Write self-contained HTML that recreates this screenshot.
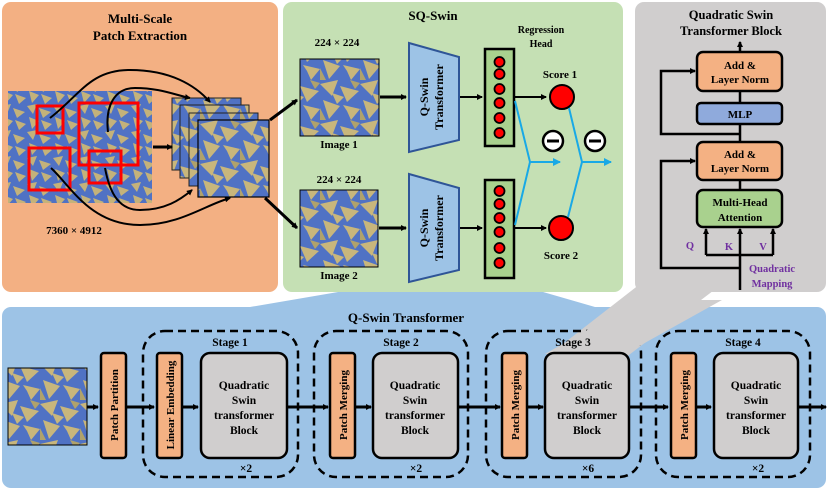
<!DOCTYPE html>
<html><head><meta charset="utf-8"><style>
html,body{margin:0;padding:0;background:#fff;}
svg{display:block;}
text{font-family:"Liberation Serif","Times New Roman",serif;font-weight:bold;}
</style></head><body>
<svg width="830" height="490" viewBox="0 0 830 490" xmlns="http://www.w3.org/2000/svg" font-family="Liberation Serif, serif" font-weight="bold">
<defs>
<pattern id="tex" width="40" height="40" patternUnits="userSpaceOnUse">
<rect width="40" height="40" fill="#5072c4"/>
<path d="M0 4 L18 0 L12 16 Z M20 6 L39 11 L27 22 Z M3 20 L20 26 L9 39 Z M23 25 L40 29 L31 40 L27 31Z M12 13 L24 17 L17 24Z" fill="#c8b67c"/>
<path d="M30 0 L40 3 L35 9Z M0 28 L6 40 L0 40Z" fill="#b0a26c"/>
</pattern>
<pattern id="tex2" width="26" height="26" patternUnits="userSpaceOnUse">
<rect width="26" height="26" fill="#5072c4"/>
<path d="M1 2 L11 0 L7 10 Z M13 4 L25 8 L17 14 Z M3 13 L13 17 L6 25 Z M15 16 L26 20 L19 26Z" fill="#c4b27a"/>
</pattern>
<marker id="ah" markerWidth="6" markerHeight="6" refX="5" refY="3" orient="auto" markerUnits="userSpaceOnUse"><path d="M0 0 L6 3 L0 6Z" fill="#000"/></marker>
<marker id="ahc" markerWidth="8" markerHeight="8" refX="7" refY="4" orient="auto" markerUnits="userSpaceOnUse"><path d="M0 0 L8 4 L0 8Z" fill="#19a9e6"/></marker>
</defs>

<polygon points="408,280 460,268 595,307 250,307" fill="#9dc3e6"/>
<rect x="2" y="2" width="276" height="290" rx="9" fill="#f3b083"/>
<rect x="283" y="2" width="340" height="290" rx="9" fill="#c5e0b4"/>
<rect x="2" y="307" width="824" height="181" rx="9" fill="#9dc3e6"/>
<rect x="635" y="2" width="191" height="290" rx="9" fill="#d0cece"/>
<polygon points="640,284 722,284 625,358 545,358" fill="#d0cece"/>

<text x="140" y="23" font-size="13" text-anchor="middle">Multi-Scale</text>
<text x="140" y="40" font-size="13" text-anchor="middle">Patch Extraction</text>
<rect x="8" y="91" width="144" height="112" fill="url(#tex2)"/>
<g fill="none" stroke="#f00" stroke-width="3">
<rect x="37" y="106" width="26" height="27"/>
<rect x="79" y="103" width="59" height="62"/>
<rect x="29" y="148" width="41" height="42"/>
<rect x="89" y="151" width="32" height="32"/>
</g>
<rect x="172" y="98" width="69" height="72" fill="url(#tex)" stroke="#222"/>
<rect x="180" y="105" width="69" height="73" fill="url(#tex)" stroke="#222"/>
<rect x="189" y="113" width="69" height="73" fill="url(#tex)" stroke="#222"/>
<rect x="198" y="120" width="71" height="77" fill="url(#tex)" stroke="#000" stroke-width="1.2"/>
<g fill="none" stroke="#000" stroke-width="2">
<path d="M50 118 C80 95 90 70 130 70 C170 70 195 85 210 102" marker-end="url(#ah)"/>
<path d="M108 132 C105 105 115 88 135 88 C160 88 175 95 190 98" marker-end="url(#ah)"/>
<path d="M51 168 C70 185 90 225 140 225 C180 225 205 205 230 198" marker-end="url(#ah)"/>
<path d="M105 168 C110 195 120 210 140 210 C165 210 180 200 192 190" marker-end="url(#ah)"/>
<path d="M153 147 L172 147" stroke-width="3" marker-end="url(#ah)"/>
<path d="M270 120 L297 100" stroke-width="3" marker-end="url(#ah)"/>
<path d="M265 198 L297 228" stroke-width="3" marker-end="url(#ah)"/>
</g>
<text x="74" y="234" font-size="11" text-anchor="middle">7360 × 4912</text>

<text x="433" y="20" font-size="13" text-anchor="middle">SQ-Swin</text>
<text x="337" y="46" font-size="11" text-anchor="middle">224 × 224</text>
<rect x="300" y="59" width="79" height="77" fill="url(#tex)" stroke="#000"/>
<text x="339" y="148" font-size="11" text-anchor="middle">Image 1</text>
<text x="339" y="183" font-size="11" text-anchor="middle">224 × 224</text>
<rect x="300" y="190" width="78" height="77" fill="url(#tex)" stroke="#000"/>
<text x="339" y="279" font-size="11" text-anchor="middle">Image 2</text>
<g stroke="#000" stroke-width="3" fill="none">
<path d="M380 97 L406 97" marker-end="url(#ah)"/>
<path d="M379 228 L406 228" marker-end="url(#ah)"/>
</g>
<polygon points="409,43 459,57 459,140 409,152" fill="#9dc3e6" stroke="#2f5597" stroke-width="2"/>
<polygon points="409,174 459,188 459,270 409,282" fill="#9dc3e6" stroke="#2f5597" stroke-width="2"/>
<g font-size="12" text-anchor="middle">
<text transform="translate(428,97) rotate(-90)">Q-Swin</text>
<text transform="translate(443,97) rotate(-90)">Transformer</text>
<text transform="translate(428,228) rotate(-90)">Q-Swin</text>
<text transform="translate(443,228) rotate(-90)">Transformer</text>
</g>
<g stroke="#000" stroke-width="2" fill="none">
<path d="M460 97 L482 97" marker-end="url(#ah)"/>
<path d="M460 228 L482 228" marker-end="url(#ah)"/>
</g>
<text x="541" y="33" font-size="10" text-anchor="middle">Regression</text>
<text x="541" y="47" font-size="10" text-anchor="middle">Head</text>
<rect x="485" y="49" width="29" height="97" fill="#a9d18e" stroke="#000" stroke-width="2.5"/>
<rect x="485" y="180" width="29" height="98" fill="#a9d18e" stroke="#000" stroke-width="2.5"/>
<g fill="#f00" stroke="#000" stroke-width="1.8">
<circle cx="499.5" cy="62" r="5"/><circle cx="499.5" cy="74" r="5"/><circle cx="499.5" cy="89" r="5"/><circle cx="499.5" cy="103" r="5"/><circle cx="499.5" cy="118" r="5"/><circle cx="499.5" cy="133" r="5"/>
<circle cx="499.5" cy="191" r="5"/><circle cx="499.5" cy="204" r="5"/><circle cx="499.5" cy="218" r="5"/><circle cx="499.5" cy="232" r="5"/><circle cx="499.5" cy="248" r="5"/><circle cx="499.5" cy="263" r="5"/>
</g>
<g stroke="#000" stroke-width="2" fill="none">
<path d="M515 97 L546 97" marker-end="url(#ah)"/>
<path d="M515 228 L546 228" marker-end="url(#ah)"/>
</g>
<circle cx="562" cy="97" r="12" fill="#f00" stroke="#000" stroke-width="2"/>
<circle cx="561" cy="228" r="12" fill="#f00" stroke="#000" stroke-width="2"/>
<text x="560" y="78" font-size="11" text-anchor="middle">Score 1</text>
<text x="561" y="259" font-size="11" text-anchor="middle">Score 2</text>
<g stroke="#19a9e6" stroke-width="2" fill="none">
<path d="M515 101 L530 162 L515 225"/>
<path d="M530 162 L560 162" marker-end="url(#ahc)"/>
<path d="M569 108 L582 162 L568 217"/>
<path d="M582 162 L611 162" marker-end="url(#ahc)"/>
</g>
<g stroke="#000" stroke-width="2.5" fill="#fff">
<circle cx="553" cy="141" r="10"/><circle cx="595" cy="141" r="10"/>
</g>
<g stroke="#000" stroke-width="3"><path d="M547 141 L559 141"/><path d="M589 141 L601 141"/></g>

<text x="731" y="19" font-size="12.5" text-anchor="middle">Quadratic Swin</text>
<text x="731" y="35" font-size="12.5" text-anchor="middle">Transformer Block</text>
<g stroke="#000" stroke-width="2.5" fill="none">
<path d="M740 52 L740 42" marker-end="url(#ah)"/>
<path d="M740 91 L740 103"/><path d="M740 124 L740 142"/><path d="M740 180 L740 190"/>
<path d="M740 290 L740 229" marker-end="url(#ah)"/>
<path d="M740 134 L661 134 L661 71 L695 71" marker-end="url(#ah)"/>
<path d="M740 268 L661 268 L661 161 L695 161" marker-end="url(#ah)"/>
<path d="M706 255 L773 255"/>
<path d="M706 255 L706 229" marker-end="url(#ah)"/>
<path d="M773 255 L773 229" marker-end="url(#ah)"/>
</g>
<rect x="697" y="52" width="85" height="39" rx="6" fill="#f4b183" stroke="#000" stroke-width="2.5"/>
<rect x="697" y="103" width="85" height="21" rx="4" fill="#8faadc" stroke="#000" stroke-width="2.5"/>
<rect x="697" y="142" width="85" height="38" rx="6" fill="#f4b183" stroke="#000" stroke-width="2.5"/>
<rect x="697" y="190" width="85" height="37" rx="6" fill="#a9d18e" stroke="#000" stroke-width="2.5"/>
<g font-size="11" text-anchor="middle">
<text x="740" y="69">Add &amp;</text><text x="740" y="83">Layer Norm</text>
<text x="740" y="118">MLP</text>
<text x="740" y="158">Add &amp;</text><text x="740" y="172">Layer Norm</text>
<text x="740" y="206">Multi-Head</text><text x="740" y="221">Attention</text>
</g>
<g font-size="10.5" fill="#7030a0" text-anchor="middle">
<text x="690" y="249">Q</text><text x="729" y="250">K</text><text x="763" y="250">V</text>
<text x="772" y="272">Quadratic</text><text x="772" y="287">Mapping</text>
</g>

<text x="406" y="322" font-size="13" text-anchor="middle">Q-Swin Transformer</text>
<g stroke="#000" stroke-width="3" fill="none">
<path d="M87 407 L98 407" marker-end="url(#ah)"/>
<path d="M127 407 L154 407" marker-end="url(#ah)"/>
<path d="M183 407 L198 407" marker-end="url(#ah)"/>
<path d="M287 407 L328 407" marker-end="url(#ah)"/>
<path d="M356 407 L371 407" marker-end="url(#ah)"/>
<path d="M457 407 L500 407" marker-end="url(#ah)"/>
<path d="M527 407 L543 407" marker-end="url(#ah)"/>
<path d="M628 407 L668 407" marker-end="url(#ah)"/>
<path d="M695 407 L711 407" marker-end="url(#ah)"/>
<path d="M797 407 L826 407" marker-end="url(#ah)"/>
</g>
<rect x="8" y="368" width="79" height="77" fill="url(#tex)" stroke="#000"/>
<g fill="none" stroke="#000" stroke-width="2.5" stroke-dasharray="8,5">
<rect x="143" y="331" width="155" height="146" rx="22"/>
<rect x="314" y="331" width="154" height="146" rx="22"/>
<rect x="486" y="331" width="155" height="146" rx="22"/>
<rect x="656" y="331" width="154" height="146" rx="22"/>
</g>
<polygon points="640,300 722,300 625,354 545,354" fill="#d0cece"/>
<g font-size="11.5" text-anchor="middle">
<text x="230" y="346">Stage 1</text><text x="401" y="346">Stage 2</text>
<text x="573" y="346">Stage 3</text><text x="743" y="346">Stage 4</text>
<text x="246" y="472">×2</text><text x="416" y="472">×2</text>
<text x="588" y="472">×6</text><text x="758" y="472">×2</text>
</g>
<g fill="#f4b183" stroke="#000" stroke-width="2.5">
<rect x="101" y="353" width="25" height="105" rx="3"/>
<rect x="157" y="353" width="25" height="105" rx="3"/>
<rect x="330" y="353" width="25" height="105" rx="3"/>
<rect x="502" y="353" width="25" height="105" rx="3"/>
<rect x="671" y="353" width="25" height="105" rx="3"/>
</g>
<g fill="#d0cece" stroke="#000" stroke-width="2.5">
<rect x="201" y="353" width="86" height="105" rx="9"/>
<rect x="373" y="353" width="85" height="105" rx="9"/>
<rect x="545" y="353" width="84" height="105" rx="9"/>
<rect x="714" y="353" width="84" height="105" rx="9"/>
</g>
<g font-size="11" text-anchor="middle">
<text transform="translate(118,405) rotate(-90)">Patch Partition</text>
<text transform="translate(174,405) rotate(-90)">Linear Embedding</text>
<text transform="translate(347,405) rotate(-90)">Patch Merging</text>
<text transform="translate(519,405) rotate(-90)">Patch Merging</text>
<text transform="translate(688,405) rotate(-90)">Patch Merging</text>
</g>
<g font-size="11.5" text-anchor="middle">
<text x="244" y="389">Quadratic</text><text x="244" y="404">Swin</text><text x="244" y="419">transformer</text><text x="244" y="434">Block</text>
<text x="415" y="389">Quadratic</text><text x="415" y="404">Swin</text><text x="415" y="419">transformer</text><text x="415" y="434">Block</text>
<text x="587" y="389">Quadratic</text><text x="587" y="404">Swin</text><text x="587" y="419">transformer</text><text x="587" y="434">Block</text>
<text x="756" y="389">Quadratic</text><text x="756" y="404">Swin</text><text x="756" y="419">transformer</text><text x="756" y="434">Block</text>
</g>
</svg>
</body></html>
